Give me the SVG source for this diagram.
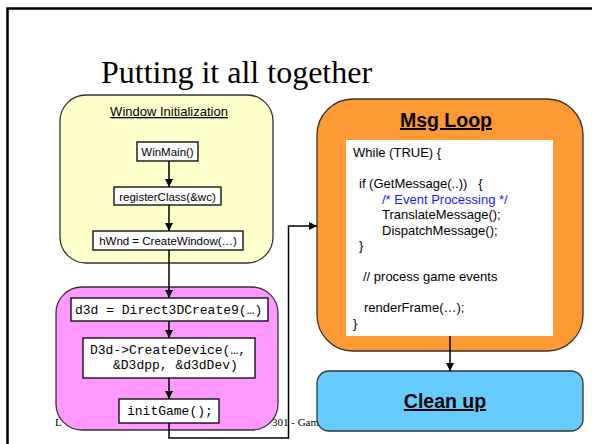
<svg xmlns="http://www.w3.org/2000/svg" width="592" height="444" viewBox="0 0 592 444">
<style>
.sans{font-family:"Liberation Sans",Arial,sans-serif;fill:#000}
.mono{font-family:"Liberation Mono","Courier New",monospace;font-size:13px;fill:#000}
.serif{font-family:"Liberation Serif","Times New Roman",serif;fill:#000}
.box{fill:#fff;stroke:#000;stroke-width:1.3}
.conn{fill:none;stroke:#000;stroke-width:1.5}
.code{font-size:13px;white-space:pre}
</style>
<defs>
<marker id="ah" markerWidth="8" markerHeight="8" refX="8" refY="4" orient="auto" markerUnits="userSpaceOnUse">
<path d="M0,0 L8,4 L0,8 Z" fill="#000"/>
</marker>
</defs>
<rect x="0" y="0" width="592" height="444" fill="#fff"/>
<rect x="7.5" y="8.5" width="700" height="600" fill="none" stroke="#000" stroke-width="2.5"/>
<text class="serif" x="101" y="83" font-size="32">Putting it all together</text>
<text class="serif" x="55" y="426" font-size="11">L</text>
<text class="serif" x="272" y="426" font-size="11">301 - Gam</text>

<g id="window-init">
<rect x="60" y="95" width="213" height="168" rx="26" fill="#FFFFCC" stroke="#333" stroke-width="1.3"/>
<text class="sans" x="169" y="116" font-size="13" text-anchor="middle" text-decoration="underline">Window Initialization</text>
</g>
<g id="winmain">
<rect class="box" x="137" y="142" width="61" height="19"/>
<text class="sans" x="167.5" y="156" font-size="11.5" text-anchor="middle">WinMain()</text>
</g>
<g id="registerclass">
<rect class="box" x="114" y="187" width="107" height="18"/>
<text class="sans" x="167.5" y="200.5" font-size="11.5" text-anchor="middle">registerClass(&amp;wc)</text>
</g>
<g id="createwindow">
<rect class="box" x="93" y="231" width="150" height="19"/>
<text class="sans" x="168" y="245" font-size="11.5" text-anchor="middle">hWnd = CreateWindow(…)</text>
</g>

<g id="d3d-init">
<rect x="56" y="287" width="222" height="143" rx="26" fill="#FF99FF" stroke="#333" stroke-width="1.3"/>
</g>
<g id="direct3dcreate">
<rect class="box" x="71" y="298" width="197" height="23"/>
<text class="mono" x="75" y="314">d3d = Direct3DCreate9(…)</text>
</g>
<g id="createdevice">
<rect class="box" x="83" y="338" width="172" height="40"/>
<text class="mono" x="90" y="354">D3d-&gt;CreateDevice(…,</text>
<text class="mono" x="113" y="369">&amp;D3dpp, &amp;d3dDev)</text>
</g>
<g id="initgame">
<rect class="box" x="119" y="399" width="100" height="24"/>
<text class="mono" x="127" y="415">initGame();</text>
</g>

<g id="msg-loop">
<rect x="317" y="99" width="266" height="252" rx="36" fill="#FF9933" stroke="#333" stroke-width="1.3"/>
<text class="sans" x="446" y="127" font-size="19.5" font-weight="bold" text-anchor="middle" text-decoration="underline">Msg Loop</text>
<rect x="346" y="140" width="207" height="196" fill="#fff"/>
<g class="sans code">
<text x="353" y="157">While (TRUE) {</text>
<text x="359" y="188" xml:space="preserve">if (GetMessage(..))   {</text>
<text x="382" y="203.5" style="fill:#1a1aff">/* Event Processing */</text>
<text x="382" y="219">TranslateMessage();</text>
<text x="382" y="234.5">DispatchMessage();</text>
<text x="359" y="250">}</text>
<text x="363" y="281">// process game events</text>
<text x="364" y="312">renderFrame(…);</text>
<text x="353" y="327.5">}</text>
</g>
</g>

<g id="clean-up">
<rect x="317" y="371" width="266" height="60" rx="12" fill="#66CCFF" stroke="#333" stroke-width="1.3"/>
<text class="sans" x="445" y="408" font-size="19.5" font-weight="bold" text-anchor="middle" text-decoration="underline">Clean up</text>
</g>

<g id="connectors">
<line class="conn" x1="169" y1="161" x2="169" y2="187" marker-end="url(#ah)"/>
<line class="conn" x1="169" y1="205" x2="169" y2="231" marker-end="url(#ah)"/>
<line class="conn" x1="169" y1="250" x2="169" y2="298" marker-end="url(#ah)"/>
<line class="conn" x1="169" y1="321" x2="169" y2="338" marker-end="url(#ah)"/>
<line class="conn" x1="169" y1="378" x2="169" y2="399" marker-end="url(#ah)"/>
<polyline class="conn" points="169,423 169,438 288.5,438 288.5,226 317,226" marker-end="url(#ah)"/>
<line class="conn" x1="450" y1="336" x2="450" y2="371" marker-end="url(#ah)"/>
</g>
</svg>
